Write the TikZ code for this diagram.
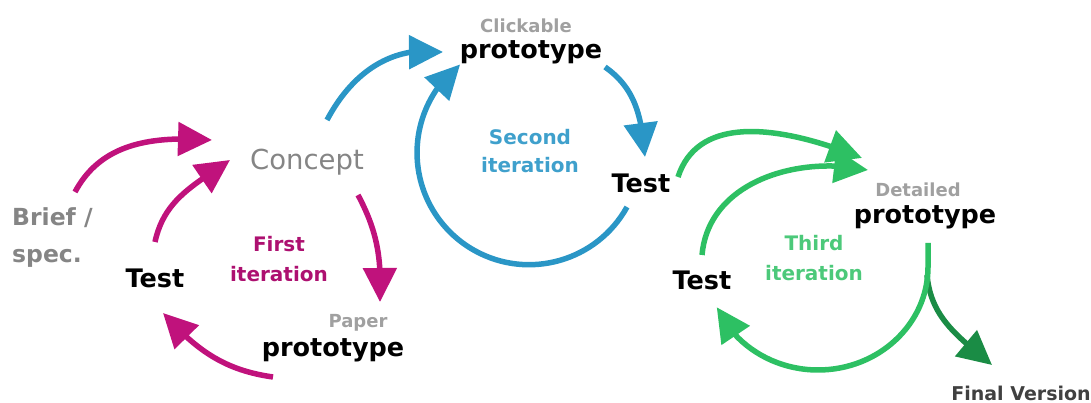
\documentclass[tikz,border=0pt]{standalone}
\usepackage{fontspec}
\setmainfont{DejaVu Sans}
\usepackage{tikz}
\usetikzlibrary{arrows.meta, bending}

\definecolor{magentaC}{HTML}{C0127C}
\definecolor{blueC}{HTML}{2A96C6}
\definecolor{greenC}{HTML}{2DC063}
\definecolor{darkgreenC}{HTML}{1A8C45}
\definecolor{greyC}{HTML}{858585}
\definecolor{lightgreyC}{HTML}{A0A0A0}

\begin{document}
\begin{tikzpicture}[x=1pt, y=1pt,
    arr/.style={line width=5.5pt, -{Triangle[length=34pt, width=33pt]}},
    stage/.style={font=\bfseries\fontsize{25.5}{28}\selectfont, text=black, inner sep=0pt},
    small/.style={font=\bfseries\fontsize{18}{20}\selectfont, text=lightgreyC, inner sep=0pt},
    iter/.style={font=\bfseries\fontsize{20}{30}\selectfont, align=center, inner sep=0pt}]
    \useasboundingbox (0,0) rectangle (1091,403);

    % Labels
    \node[anchor=west, align=left, inner sep=0pt, text=greyC,
          font=\bfseries\fontsize{23.5}{37}\selectfont] (brief) at (12,165) {Brief /\\spec.};
    \node[inner sep=0pt, text=greyC, font=\fontsize{27.5}{30}\selectfont] (concept) at (307,241) {Concept};
    \node[stage] (testA) at (155,125) {Test};
    \node[iter, text=magentaC!90!black] (firstit) at (279,144) {First\\iteration};
    \node[small] (paper) at (358,80) {Paper};
    \node[stage] (protoA) at (333,53) {prototype};

    \node[small] (click) at (526,377) {Clickable};
    \node[stage] (protoB) at (531,351) {prototype};
    \node[iter, text=blueC!90!white, font=\bfseries\fontsize{20}{28}\selectfont] (secondit) at (530,252) {Second\\iteration};
    \node[stage] (testB) at (641,220) {Test};

    \node[small] (detailed) at (918,213) {Detailed};
    \node[stage] (protoC) at (925,186) {prototype};
    \node[iter, text=greenC!85!white] (thirdit) at (814,145) {Third\\iteration};
    \node[stage] (testC) at (702,123) {Test};
    \node[inner sep=0pt, text=black!75, font=\bfseries\fontsize{19}{20}\selectfont] (final) at (1021,10) {Final Version};

    % Arrow ends
    \coordinate (m1s) at (75,211);   \coordinate (m1e) at (212,263);
    \coordinate (m2s) at (155,161);  \coordinate (m2e) at (230,243);
    \coordinate (m3s) at (358,208);  \coordinate (m3e) at (380,101);
    \coordinate (m4s) at (273,26);   \coordinate (m4e) at (163,90);
    \coordinate (b1s) at (327,283);  \coordinate (b1e) at (443,351);
    \coordinate (b2s) at (627,196);
    \coordinate (b3s) at (605,336);  \coordinate (b3e) at (645,246);
    \coordinate (g1s) at (678,226);  \coordinate (g1e) at (862,245);
    \coordinate (g2s) at (702,148);  \coordinate (g2e) at (868,233);
    \coordinate (g3s) at (928,160);  \coordinate (g3a) at (928,136);
    \coordinate (fork) at (927,128);
    \coordinate (fine) at (992,38);

    % First iteration
    \draw[arr, magentaC] (m1s) to[out=62, in=176] (m1e);
    \draw[arr, magentaC] (m2s) to[out=78, in=215] (m2e);
    \draw[arr, magentaC] (m3s) to[out=-62, in=88] (m3e);
    \draw[arr, magentaC] (m4s) to[out=172, in=-48] (m4e);

    % Second iteration
    \draw[arr, blueC] (b1s) to[out=62, in=172] (b1e);
    \draw[arr, blueC] (b2s) arc[start angle=-29, end angle=-232, radius=112];
    \draw[arr, blueC] (b3s) to[out=-35, in=95] (b3e);

    % Third iteration
    \draw[arr, greenC] (g1s) to[out=72, in=158] (g1e);
    \draw[arr, greenC] (g2s) to[out=85, in=168] (g2e);
    \draw[arr, darkgreenC] (fork) to[out=-85, in=140] (fine);
    \draw[arr, greenC] (g3s) -- (g3a) arc[start angle=0, end angle=-157, x radius=110, y radius=103];
\end{tikzpicture}
\end{document}
